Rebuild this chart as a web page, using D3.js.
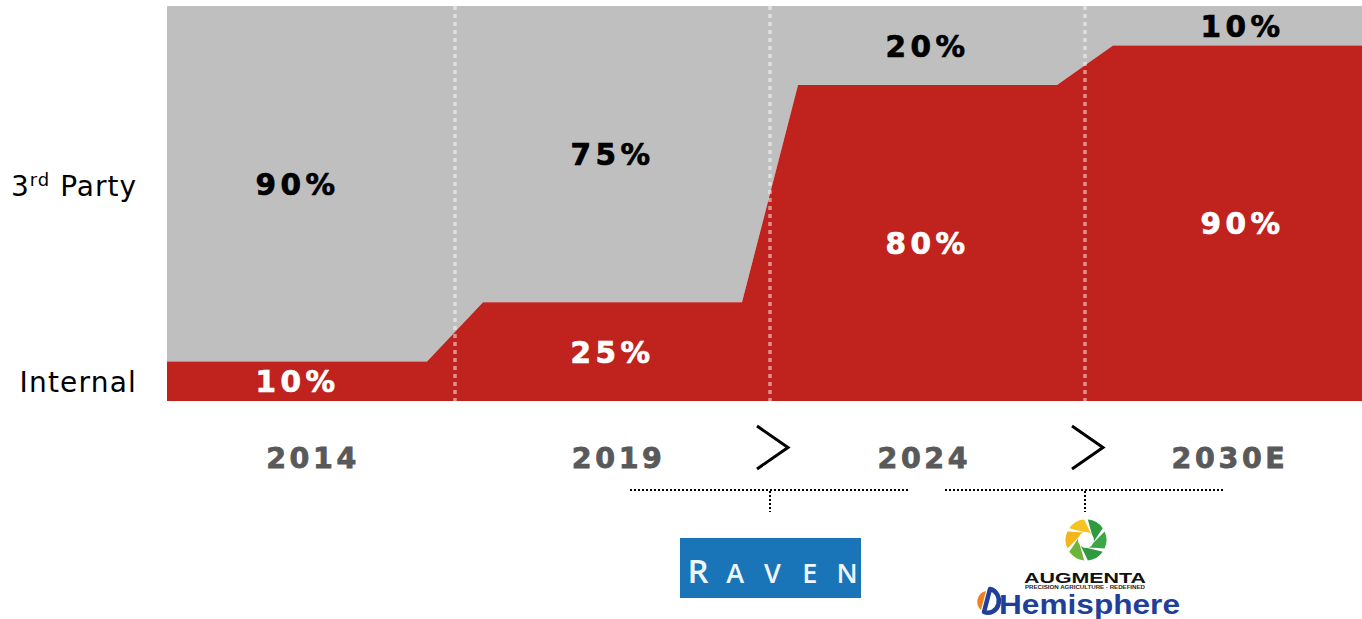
<!DOCTYPE html>
<html>
<head>
<meta charset="utf-8">
<script src="https://cdn.jsdelivr.net/npm/d3@7"></script>
<style>
  html, body { margin: 0; padding: 0; background: #ffffff; }
  svg { display: block; }
</style>
</head>
<body>
<svg id="chart" width="1362" height="619"></svg>
<script>
// Sourcing mix by period
const years = ["2014", "2019", "2024", "2030E"];
const internalShare = [10, 25, 80, 90];
const thirdPartyShare = [90, 75, 20, 10];
const rowLabels = ["3rd Party", "Internal"];
// Acquisitions between periods (index of the period they follow)
const acquisitionAfter = [1, 2];
const acquisitionNames = [["Raven"], ["Augmenta", "Hemisphere"]];

const plot = { left: 167, right: 1362, top: 6, bottom: 401 };
const RED = "#c0221e", GREY = "#bfbfbf";
const ramp = 28; // half-width of the sloped step between periods

const svg = d3.select("#chart");

const x = d3.scaleLinear().domain([-0.5, years.length - 0.5]).range([140, 1400]);
const y = d3.scaleLinear().domain([0, 100]).range([plot.bottom, plot.top]);
const yearX = d3.scaleLinear().domain([0, years.length - 1]).range([311, 1228]);

// Step profile of the internal share, with short ramps at each boundary
const steps = [];
internalShare.forEach((v, i) => {
  const x0 = i === 0 ? x(-0.5) : x(i - 0.5) + ramp;
  const x1 = i === internalShare.length - 1 ? x(i + 0.5) : x(i + 0.5) - ramp;
  steps.push({ px: x0, v, t: thirdPartyShare[i] });
  steps.push({ px: x1, v, t: thirdPartyShare[i] });
});

svg.append("defs").append("clipPath").attr("id", "plotClip")
  .append("rect")
  .attr("x", plot.left).attr("y", plot.top)
  .attr("width", plot.right - plot.left).attr("height", plot.bottom - plot.top);

const g = svg.append("g").attr("clip-path", "url(#plotClip)");

// 3rd party share stacked above internal
g.append("path")
  .datum(steps)
  .attr("fill", GREY)
  .attr("d", d3.area().x(d => d.px).y0(d => y(d.v)).y1(d => y(d.v + d.t)));

// Internal share
g.append("path")
  .datum(steps)
  .attr("fill", RED)
  .attr("d", d3.area().x(d => d.px).y0(y(0)).y1(d => y(d.v)));

// Dotted period separators
g.selectAll("line.sep")
  .data(d3.range(years.length - 1))
  .join("line")
  .attr("class", "sep")
  .attr("x1", i => x(i + 0.5)).attr("x2", i => x(i + 0.5))
  .attr("y1", plot.top).attr("y2", plot.bottom)
  .attr("stroke", "#ffffff").attr("stroke-opacity", 0.5)
  .attr("stroke-width", 3.5).attr("stroke-dasharray", "4,4");

const valueFont = "'DejaVu Sans', Verdana, sans-serif";

function valueLabel(px, py, txt, col) {
  svg.append("text")
    .attr("x", px).attr("y", py)
    .attr("text-anchor", "middle")
    .attr("font-family", valueFont).attr("font-weight", "bold")
    .attr("font-size", 29.5).attr("letter-spacing", 4.5)
    .attr("fill", col).attr("stroke", col).attr("stroke-width", 0.7)
    .text(txt);
}

// Value labels, centred in each band
years.forEach((yr, i) => {
  const iv = internalShare[i], tv = thirdPartyShare[i];
  valueLabel(x(i), (y(0) + y(iv)) / 2 + 11, iv + "%", "#ffffff");
  valueLabel(x(i), (y(iv) + y(iv + tv)) / 2 + 11, tv + "%", "#000000");
});

// Row labels
const rowLab = svg.append("text")
  .attr("x", 137).attr("y", (y(internalShare[0]) + y(100)) / 2 + 12)
  .attr("text-anchor", "end")
  .attr("font-family", valueFont).attr("font-size", 28).attr("letter-spacing", 1)
  .attr("fill", "#000");
rowLab.append("tspan").text("3");
rowLab.append("tspan").attr("font-size", 18).attr("dy", -10).text("rd");
rowLab.append("tspan").attr("dy", 10).text(" Party");

svg.append("text")
  .attr("x", 137).attr("y", (y(0) + y(internalShare[0])) / 2 + 11)
  .attr("text-anchor", "end")
  .attr("font-family", valueFont).attr("font-size", 28).attr("letter-spacing", 1.2)
  .attr("fill", "#000")
  .text(rowLabels[1]);

// Year axis
svg.selectAll("text.year")
  .data(years)
  .join("text")
  .attr("class", "year")
  .attr("x", (d, i) => yearX(i) + 2)
  .attr("y", 468)
  .attr("text-anchor", "middle")
  .attr("font-family", valueFont).attr("font-weight", "bold")
  .attr("font-size", 28.5).attr("letter-spacing", 3.6)
  .attr("fill", "#595959").attr("stroke", "#595959").attr("stroke-width", 0.8)
  .text(d => d);

// Chevrons and acquisition brackets
acquisitionAfter.forEach((idx) => {
  const bx = x(idx + 0.5);
  svg.append("path")
    .attr("d", `M${bx - 13},${426} L${bx + 18},${447.5} L${bx - 13},${469}`)
    .attr("fill", "none").attr("stroke", "#000").attr("stroke-width", 3);
  svg.append("line")
    .attr("x1", bx - 140).attr("x2", bx + 140).attr("y1", 490).attr("y2", 490)
    .attr("stroke", "#000").attr("stroke-width", 2).attr("stroke-dasharray", "2,2");
  svg.append("line")
    .attr("x1", bx).attr("x2", bx).attr("y1", 491).attr("y2", 512)
    .attr("stroke", "#000").attr("stroke-width", 2).attr("stroke-dasharray", "2,2");
});

// Raven logo
(function () {
  const bx = x(acquisitionAfter[0] + 0.5);
  const lg = svg.append("g").attr("transform", `translate(${bx},0)`);
  lg.append("rect").attr("x", -90).attr("y", 538).attr("width", 181).attr("height", 60)
    .attr("fill", "#1a74b8");
  const letters = acquisitionNames[0][0].toUpperCase().split("");
  const lx = d3.scalePoint().domain(d3.range(letters.length)).range([-72, 77]);
  lg.selectAll("text.rv")
    .data(letters)
    .join("text")
    .attr("class", "rv")
    .attr("x", (d, i) => lx(i)).attr("y", 583)
    .attr("text-anchor", "middle")
    .attr("font-family", "'Open Sans', 'Noto Sans', sans-serif")
    .attr("font-weight", 600)
    .attr("font-size", (d, i) => i === 0 ? 33 : 27)
    .attr("fill", "#eef6fb")
    .text(d => d);
})();

// Augmenta and Hemisphere logos
(function () {
  const bx = x(acquisitionAfter[1] + 0.5);
  const lg = svg.append("g").attr("transform", `translate(${bx},0)`);
  const cx = 1, cy = 540, rO = 20.5, rI = 8;
  // Pinwheel of skewed blades
  const bladeCols = ["#2f9a3f", "#3ca746", "#2f9a3f", "#6fb43a", "#f2b51b", "#f5c322"];
  const pt = (r, a) => [cx + r * Math.sin(a), cy - r * Math.cos(a)];
  const span = Math.PI / 3, skew = 0.8, gap = 0.09;
  bladeCols.forEach((c, k) => {
    const a0 = k * span + gap, a1 = (k + 1) * span - gap;
    const p0 = pt(rO, a0), p1 = pt(rO, a1), p2 = pt(rI, a1 + skew), p3 = pt(rI, a0 + skew);
    const m1 = pt((rO + rI) / 2, a1 + skew * 0.2), m2 = pt((rO + rI) / 2, a0 + skew * 0.2);
    lg.append("path")
      .attr("d", `M${p0}A${rO},${rO} 0 0 1 ${p1}Q${m1} ${p2}A${rI},${rI} 0 0 0 ${p3}Q${m2} ${p0}Z`)
      .attr("fill", c);
  });
  lg.append("text")
    .attr("x", 0).attr("y", 583).attr("text-anchor", "middle")
    .attr("font-family", "'Liberation Sans', Arial, sans-serif").attr("font-weight", "bold")
    .attr("font-size", 15).attr("textLength", 122).attr("lengthAdjust", "spacingAndGlyphs")
    .attr("fill", "#111")
    .text(acquisitionNames[1][0].toUpperCase());
  lg.append("text")
    .attr("x", 0).attr("y", 588.5).attr("text-anchor", "middle")
    .attr("font-family", "'Liberation Sans', Arial, sans-serif").attr("font-weight", "bold")
    .attr("font-size", 4.5).attr("textLength", 120).attr("lengthAdjust", "spacingAndGlyphs")
    .attr("fill", "#222")
    .text("PRECISION AGRICULTURE · REDEFINED");
  // Hemisphere mark: orange segment and blue D
  const hx = -96, hy = 601, hr = 11;
  lg.append("path")
    .attr("d", `M${hx - 3},${hy - hr + 1} A${hr},${hr} 0 0 0 ${hx - 8},${hy + hr - 2} Z`)
    .attr("fill", "#f07f22");
  lg.append("path")
    .attr("d", `M${hx + 1},${hy - hr - 1} A${hr},${hr + 1} 0 1 1 ${hx - 5},${hy + hr} Z`)
    .attr("fill", "none").attr("stroke", "#1f3f98").attr("stroke-width", 4.5)
    .attr("stroke-linejoin", "round");
  lg.append("text")
    .attr("x", -86).attr("y", 614)
    .attr("font-family", "'Liberation Sans', Arial, sans-serif").attr("font-weight", "bold")
    .attr("font-size", 28).attr("textLength", 181).attr("lengthAdjust", "spacingAndGlyphs")
    .attr("fill", "#1f3f98")
    .text(acquisitionNames[1][1]);
})();
</script>
</body>
</html>
